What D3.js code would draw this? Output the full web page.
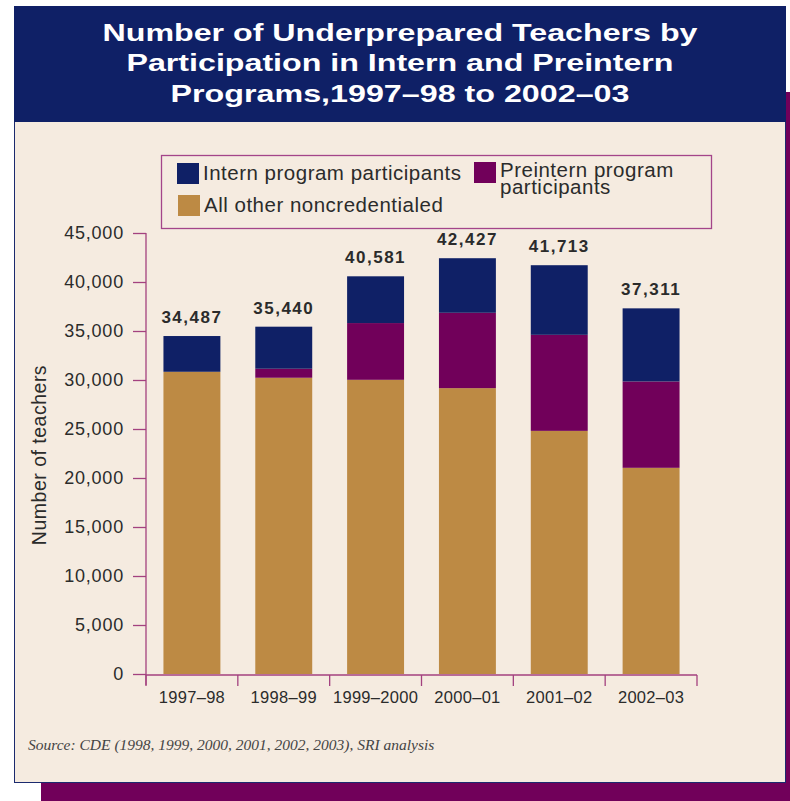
<!DOCTYPE html>
<html><head><meta charset="utf-8">
<script src="https://cdn.jsdelivr.net/npm/d3@7"></script>
<style>body{margin:0;background:#fff;}svg{display:block;}</style>
</head><body>
<svg id="chart" width="790" height="801"></svg>
<script>
const years = ["1997–98","1998–99","1999–2000","2000–01","2001–02","2002–03"];
const otherNoncred = [30840, 30230, 30020, 29170, 24810, 21040];
const preintern    = [0, 920, 5790, 7690, 9800, 8810];
const intern       = [3647, 4290, 4771, 5567, 7103, 7461];
const yTicks = [0,5000,10000,15000,20000,25000,30000,35000,40000,45000];
const seriesKeys = ["other","preintern","intern"];
const seriesNames = {intern:"Intern program participants", preintern:"Preintern program participants", other:"All other noncredentialed"};
const colors = {other:"#bd8a44", preintern:"#71005a", intern:"#0f2066"};
const titleLines = ["Number of Underprepared Teachers by","Participation in Intern and Preintern","Programs,1997–98 to 2002–03"];
const titleWidths = [595, 547, 459];

const svg = d3.select("#chart");
const navy = "#0f2066", purple = "#71005a", cream = "#f5ebe0", axisCol = "#a3417f", textCol = "#2b2b2b";
const sans = "Liberation Sans, Arial, sans-serif";

// frame
svg.append("rect").attr("x",41).attr("y",92).attr("width",760).attr("height",720).attr("fill",purple);
svg.append("rect").attr("x",14.5).attr("y",121.5).attr("width",771).attr("height",661).attr("fill",cream).attr("stroke","#1b2a6e").attr("stroke-width",1);
svg.append("rect").attr("x",14).attr("y",6).attr("width",772).attr("height",116).attr("fill",navy);

svg.selectAll("text.title").data(titleLines).join("text").attr("class","title")
  .attr("x",400).attr("y",(d,i)=>40.5+i*30.8).attr("text-anchor","middle")
  .attr("fill","#fff").attr("font-family",sans)
  .attr("font-weight","bold").attr("font-size",24.5)
  .attr("textLength",(d,i)=>titleWidths[i]).attr("lengthAdjust","spacingAndGlyphs").text(d=>d);

const table = years.map((y,i)=>({year:y, other:otherNoncred[i], preintern:preintern[i], intern:intern[i]}));
const stack = d3.stack().keys(seriesKeys)(table);

const x = d3.scaleBand().domain(years).range([146,697]).paddingInner(0.38).paddingOuter(0.19);
const y = d3.scaleLinear().domain([0,45000]).range([674,233]);

// bars
svg.append("g").selectAll("g").data(stack).join("g").attr("fill",d=>colors[d.key])
  .selectAll("rect").data(d=>d).join("rect")
  .attr("x",d=>x(d.data.year)).attr("width",x.bandwidth())
  .attr("y",d=>y(d[1])).attr("height",d=>y(d[0])-y(d[1]));

// totals
svg.append("g").selectAll("text").data(table).join("text")
  .attr("x",d=>x(d.year)+x.bandwidth()/2).attr("y",d=>y(d.other+d.preintern+d.intern)-13)
  .attr("text-anchor","middle").attr("font-family",sans)
  .attr("font-weight","bold").attr("font-size",17).attr("letter-spacing",1.5).attr("fill",textCol)
  .text(d=>d3.format(",")(d.other+d.preintern+d.intern));

// y axis
const yAxis = svg.append("g").attr("transform","translate(146,0)")
  .call(d3.axisLeft(y).tickValues(yTicks).tickFormat(d3.format(",")).tickSize(13).tickPadding(9));
yAxis.select(".domain").remove();
yAxis.append("line").attr("x1",0).attr("x2",0).attr("y1",233).attr("y2",685).attr("stroke",axisCol).attr("stroke-width",1.3);
yAxis.selectAll(".tick line").attr("stroke",axisCol).attr("stroke-width",1.3);
yAxis.selectAll(".tick text").attr("font-family",sans).attr("font-size",18).attr("letter-spacing",0.8).attr("fill",textCol);

// x axis
const xAxis = svg.append("g").attr("transform","translate(0,675)")
  .call(d3.axisBottom(x).tickSize(0).tickPadding(16));
xAxis.select(".domain").remove();
xAxis.append("line").attr("x1",146).attr("x2",697).attr("y1",0).attr("y2",0).attr("stroke",axisCol).attr("stroke-width",1.3);
const bounds = years.map(d=>x(d)-x.step()*x.paddingInner()/2).concat([x(years[years.length-1])+x.bandwidth()+x.step()*x.paddingInner()/2]);
xAxis.selectAll("line.sep").data(bounds).join("line").attr("class","sep")
  .attr("x1",d=>d).attr("x2",d=>d).attr("y1",0).attr("y2",11).attr("stroke",axisCol).attr("stroke-width",1.3);
xAxis.selectAll(".tick text").attr("font-family",sans).attr("font-size",16.5).attr("letter-spacing",0.3).attr("fill",textCol);

// y label
svg.append("text").attr("transform","translate(46,455) rotate(-90)").attr("text-anchor","middle")
  .attr("font-family",sans).attr("font-size",19.5).attr("letter-spacing",0.5).attr("fill",textCol).text("Number of teachers");

// legend
const lg = svg.append("g");
lg.append("rect").attr("x",161.5).attr("y",155.5).attr("width",550).attr("height",73).attr("fill","none").attr("stroke","#a4458a").attr("stroke-width",1.3);
const legendItems = [
  {key:"intern", x:177, y:163, lines:[seriesNames.intern]},
  {key:"preintern", x:474, y:162, lines:["Preintern program","participants"]},
  {key:"other", x:178, y:195, lines:[seriesNames.other]}
];
legendItems.forEach(it=>{
  lg.append("rect").attr("x",it.x).attr("y",it.y).attr("width",22).attr("height",21).attr("fill",colors[it.key]);
  const t = lg.append("text").attr("x",it.x+26).attr("y",it.y+(it.lines.length>1?15:17))
    .attr("font-family",sans).attr("font-size",20.5).attr("letter-spacing",0.5).attr("fill",textCol);
  it.lines.forEach((l,i)=>t.append("tspan").attr("x",it.x+26).attr("dy",i?17:0).text(l));
});

// source
svg.append("text").attr("x",28).attr("y",750).attr("font-family","Liberation Serif, Times New Roman, serif")
  .attr("font-style","italic").attr("font-size",15.5).attr("fill","#444").text("Source: CDE (1998, 1999, 2000, 2001, 2002, 2003), SRI analysis");
</script>
</body></html>
